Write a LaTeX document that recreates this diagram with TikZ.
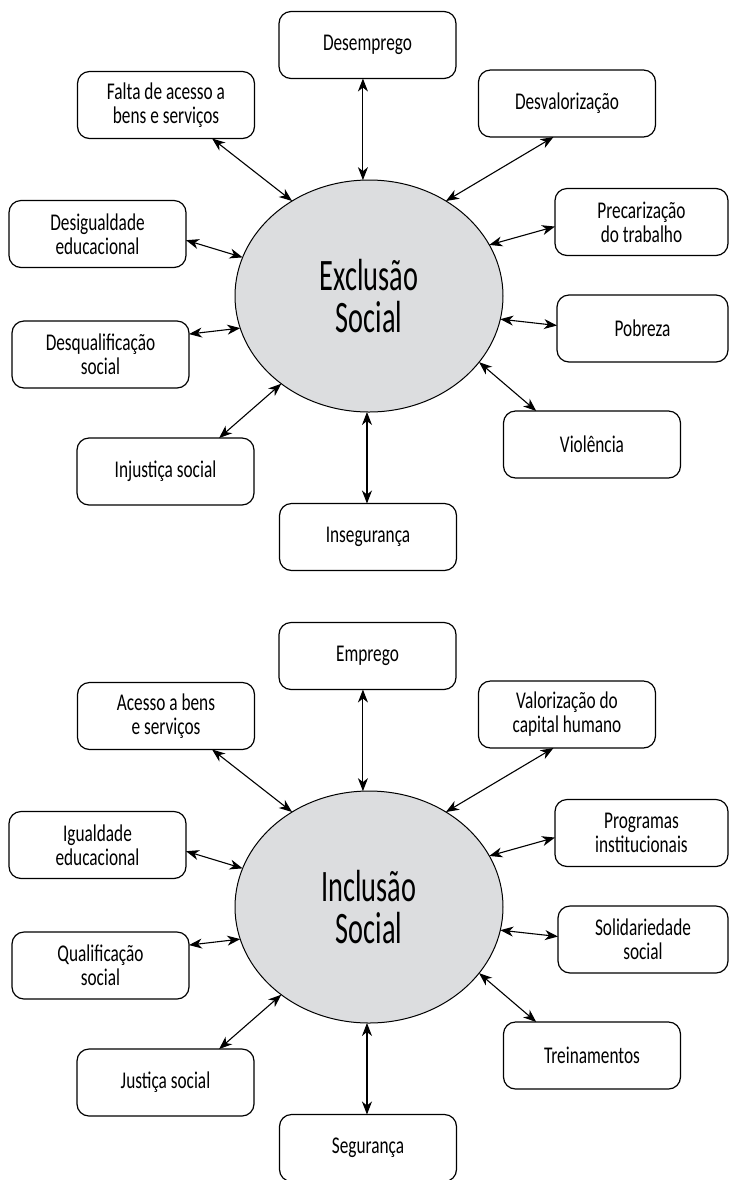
\documentclass[tikz,border=0pt]{standalone}
\usepackage{fontspec}
\setmainfont{Carlito}[FakeStretch=0.72]
\newfontfamily\bigfont{Carlito}[FakeStretch=0.63]
\usetikzlibrary{arrows.meta,shapes.geometric}
\definecolor{ellfill}{RGB}{220,221,223}
\tikzset{
  box/.style={draw, line width=0.6pt, rounded corners=6pt, minimum width=88.5pt,
    minimum height=33.5pt, inner sep=0pt, outer sep=0pt, align=center,
    font=\fontsize{12}{12}\selectfont},
  hub/.style={draw, ellipse, line width=0.5pt, fill=ellfill, minimum width=134pt,
    minimum height=116pt, inner sep=0pt, outer sep=0pt, align=center,
    font=\bigfont\fontsize{22.5}{21}\selectfont},
  link/.style={line width=0.55pt, {Stealth[length=6.5pt,width=5pt,inset=2pt]}-{Stealth[length=6.5pt,width=5pt,inset=2pt]}}
}
\begin{document}
\begin{tikzpicture}[x=0.5pt,y=-0.5pt]
\useasboundingbox (0,0) rectangle (729,1180);
% ---------- Exclusao ----------
\node[hub] (exc) at (369,296) {Exclusão\\Social};
\node[box] (desemp) at (367.5,45) {Desemprego};
\node[box] (falta) at (166,105) {Falta de acesso a\\bens e serviços};
\node[box] (desval) at (567,103.5) {Desvalorização};
\node[box] (desig) at (97.5,234) {Desigualdade\\educacional};
\node[box, minimum width=86.5pt] (precar) at (641.5,222) {Precarização\\do trabalho};
\node[box] (desqual) at (100.5,354.5) {Desqualificação\\social};
\node[box, minimum width=85.5pt] (pobreza) at (642.5,328.5) {Pobreza};
\node[box] (injust) at (165.5,471.5) {Injustiça social};
\node[box] (violen) at (592,444.5) {Violência};
\node[box] (inseg) at (368,537) {Insegurança};
\draw[link] (exc.93.5 |- desemp.south) -- (exc.93.5);
\draw[link] (falta.-36.7) -- (exc.129.3);
\draw[link] (desig.-4.4) -- (exc.163.8);
\draw[link] (desval.248) -- (exc.51.3);
\draw[link] (precar.183.9) -- (exc.23.3);
\draw[link] (desqual.13.6) -- (exc.194.4);
\draw[link] (pobreza.178.4) -- (exc.-10);
\draw[link] (injust.32) -- (exc.225.3);
\draw[link] (violen.149.7) -- (exc.-31.5);
\draw[link] (exc.-91) -- (exc.-91 |- inseg.north);
% ---------- Inclusao ----------
\begin{scope}[yshift=-305.5pt]
\node[hub] (inc) at (369,296) {Inclusão\\Social};
\node[box] (empr) at (367.5,45) {Emprego};
\node[box] (acesso) at (166,105) {Acesso a bens\\e serviços};
\node[box] (valor) at (567,103.5) {Valorização do\\capital humano};
\node[box] (igual) at (97.5,234) {Igualdade\\educacional};
\node[box, minimum width=86.5pt] (progr) at (641.5,222) {Programas\\institucionais};
\node[box] (qualif) at (100.5,354.5) {Qualificação\\social};
\node[box, minimum width=85pt] (solid) at (643,328.5) {Solidariedade\\social};
\node[box] (just) at (165.5,471.5) {Justiça social};
\node[box] (trein) at (592,444.5) {Treinamentos};
\node[box] (segur) at (368,537) {Segurança};
\end{scope}
\draw[link] (inc.93.5 |- empr.south) -- (inc.93.5);
\draw[link] (acesso.-36.7) -- (inc.129.3);
\draw[link] (igual.-4.4) -- (inc.163.8);
\draw[link] (valor.248) -- (inc.51.3);
\draw[link] (progr.183.9) -- (inc.23.3);
\draw[link] (qualif.13.6) -- (inc.194.4);
\draw[link] (solid.178.4) -- (inc.-10);
\draw[link] (just.32) -- (inc.225.3);
\draw[link] (trein.149.7) -- (inc.-31.5);
\draw[link] (inc.-91) -- (inc.-91 |- segur.north);
\end{tikzpicture}
\end{document}
